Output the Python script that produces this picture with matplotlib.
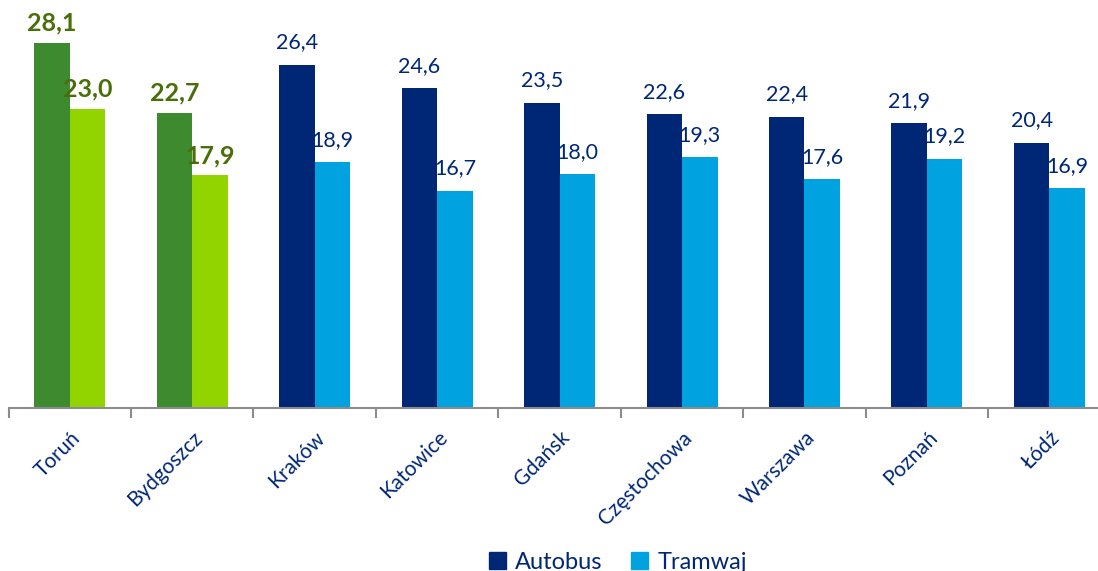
import numpy as np
import matplotlib.pyplot as plt
from matplotlib.patches import Patch

miasta = ["Toruń", "Bydgoszcz", "Kraków", "Katowice", "Gdańsk",
          "Częstochowa", "Warszawa", "Poznań", "Łódź"]
autobus = [28.1, 22.7, 26.4, 24.6, 23.5, 22.6, 22.4, 21.9, 20.4]
tramwaj = [23.0, 17.9, 18.9, 16.7, 18.0, 19.3, 17.6, 19.2, 16.9]
wyroznione = [True, True, False, False, False, False, False, False, False]

c_auto = "#002776"
c_tram = "#00A3E0"
c_auto_g = "#3E8A2F"
c_tram_g = "#92D400"
c_lab_g = "#4A6E0A"
c_txt = "#002776"

plt.rcParams["font.family"] = ["Lato", "DejaVu Sans"]

fig = plt.figure(figsize=(10.98, 5.71), dpi=100)
ax = fig.add_axes([8.6 / 1098, 163 / 571, 1102 / 1098, 408 / 571])

x = np.arange(len(miasta))
w = 0.29
for i in x:
    ca = c_auto_g if wyroznione[i] else c_auto
    ct = c_tram_g if wyroznione[i] else c_tram
    ax.bar(i - w / 2, autobus[i], w, color=ca)
    ax.bar(i + w / 2, tramwaj[i], w, color=ct)
    if wyroznione[i]:
        kw = dict(color=c_lab_g, fontsize=18, fontweight="bold")
        dy = 6
    else:
        kw = dict(color=c_txt, fontsize=15.5)
        dy = 9
    ax.annotate(f"{autobus[i]:.1f}".replace(".", ","), (i - w / 2, autobus[i]),
                xytext=(0, dy), textcoords="offset points", ha="center", va="bottom", **kw)
    ax.annotate(f"{tramwaj[i]:.1f}".replace(".", ","), (i + w / 2, tramwaj[i]),
                xytext=(0, dy), textcoords="offset points", ha="center", va="bottom", **kw)

ax.set_xlim(-0.5, len(miasta) - 0.5)
ax.set_ylim(0, 31.4)
for s in ["top", "right", "left"]:
    ax.spines[s].set_visible(False)
ax.spines["bottom"].set_color("#8C8C8C")
ax.spines["bottom"].set_linewidth(1.5)
ax.set_yticks([])

ax.set_xticks(x)
ax.set_xticklabels(miasta, rotation=45, ha="right", rotation_mode="anchor",
                   fontsize=15, color=c_txt)
ax.tick_params(axis="x", which="major", length=0, pad=14)
ax.set_xticks(np.arange(len(miasta) + 1) - 0.5, minor=True)
ax.tick_params(axis="x", which="minor", length=7, width=1.5, color="#8C8C8C")

uchwyty = [Patch(color=c_auto, label="Autobus"), Patch(color=c_tram, label="Tramwaj")]
fig.legend(handles=uchwyty, loc="lower center", bbox_to_anchor=(618 / 1098, -0.04),
           ncol=2, frameon=False, fontsize=17, handlelength=0.7, handleheight=0.7,
           handletextpad=0.4, columnspacing=1.2, labelcolor=c_txt)

fig.savefig("out.png", dpi=100)
